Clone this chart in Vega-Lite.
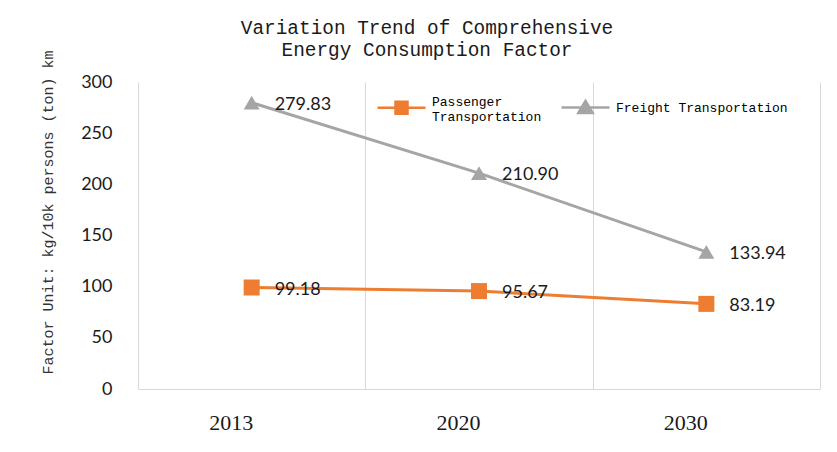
{
  "$schema": "https://vega.github.io/schema/vega-lite/v6.json",
  "width": 682,
  "height": 307,
  "autosize": "none",
  "padding": {"left": 138, "top": 82, "right": 17, "bottom": 63},
  "background": "white",
  "title": {
    "text": ["Variation Trend of Comprehensive", "Energy Consumption Factor"],
    "font": "Liberation Mono",
    "fontSize": 19.4,
    "fontWeight": "normal",
    "color": "#1a1a1a",
    "lineHeight": 22,
    "dx": -52,
    "dy": 34,
    "offset": 24
  },
  "config": {
    "view": {"stroke": null}
  },
  "data": {
    "values": [
      {"year": "2013", "series": "Passenger Transportation", "value": 99.18},
      {"year": "2020", "series": "Passenger Transportation", "value": 95.67},
      {"year": "2030", "series": "Passenger Transportation", "value": 83.19},
      {"year": "2013", "series": "Freight Transportation", "value": 279.83},
      {"year": "2020", "series": "Freight Transportation", "value": 210.90},
      {"year": "2030", "series": "Freight Transportation", "value": 133.94}
    ]
  },
  "encoding": {
    "x": {
      "field": "year",
      "type": "ordinal",
      "scale": {"type": "band", "paddingInner": 0, "paddingOuter": 0},
      "axis": {
        "title": null,
        "labelAngle": 0,
        "labelFont": "Liberation Serif",
        "labelFontSize": 22,
        "labelColor": "#1a1a1a",
        "labelPadding": 23,
        "labelOffset": -21,
        "ticks": false,
        "tickBand": "extent",
        "grid": true,
        "gridColor": "#d9d9d9",
        "gridWidth": 1,
        "domainColor": "#d9d9d9",
        "domainWidth": 1
      }
    },
    "y": {
      "field": "value",
      "type": "quantitative",
      "scale": {"domain": [0, 300]},
      "axis": {
        "title": "Factor Unit: kg/10k persons (ton) km",
        "titleFont": "Liberation Mono",
        "titleFontSize": 15,
        "titleFontWeight": "normal",
        "titleColor": "#333",
        "titleX": -91,
        "titleY": 130,
        "titleAlign": "center",
        "titleBaseline": "middle",
        "values": [0, 50, 100, 150, 200, 250, 300],
        "labelFont": "Lato",
        "labelFontSize": 18,
        "labelColor": "#1a1a1a",
        "labelPadding": 26,
        "ticks": false,
        "domain": false,
        "grid": false
      }
    }
  },
  "layer": [
    {
      "mark": {"type": "line", "strokeWidth": 3},
      "encoding": {
        "color": {
          "field": "series",
          "type": "nominal",
          "scale": {
            "domain": ["Passenger Transportation", "Freight Transportation"],
            "range": ["#ED7D31", "#A5A5A5"]
          },
          "legend": {
            "title": null,
            "orient": "none",
            "legendX": 256,
            "legendY": 12,
            "direction": "horizontal",
            "padding": 0,
            "labelFont": "Liberation Mono",
            "labelFontSize": 13,
            "labelColor": "#000",
            "labelLimit": 0,
            "labelExpr": "datum.label == 'Passenger Transportation' ? ['Passenger', 'Transportation'] : datum.label",
            "symbolSize": 144,
            "symbolStrokeWidth": 2.5,
            "labelOffset": 23,
            "columnPadding": 14,
            "encode": {
              "symbols": {
                "update": {
                  "shape": {"signal": "datum.value == 'Passenger Transportation' ? 'M-4,1H4M-1,0H1V2H-1Z' : 'M-4,0H4M0,-1.1L1.2,0.9H-1.2Z'"},
                  "size": {"value": 144},
                  "fill": {"scale": "color", "field": "value"},
                  "stroke": {"scale": "color", "field": "value"},
                  "strokeWidth": {"value": 2.5},
                  "opacity": {"value": 1}
                }
              }
            }
          }
        }
      }
    },
    {
      "transform": [{"filter": "datum.series == 'Passenger Transportation'"}],
      "mark": {"type": "point", "filled": true, "opacity": 1, "size": 256, "shape": "square", "color": "#ED7D31"}
    },
    {
      "transform": [{"filter": "datum.series == 'Freight Transportation'"}],
      "mark": {"type": "point", "filled": true, "opacity": 1, "size": 256, "shape": "triangle-up", "color": "#A5A5A5"}
    },
    {
      "mark": {"type": "text", "align": "left", "baseline": "middle", "dx": 23, "dy": 2, "font": "Lato", "fontSize": 18, "color": "#1a1a1a"},
      "encoding": {
        "text": {"field": "value", "type": "quantitative", "format": ".2f"}
      }
    }
  ]
}
